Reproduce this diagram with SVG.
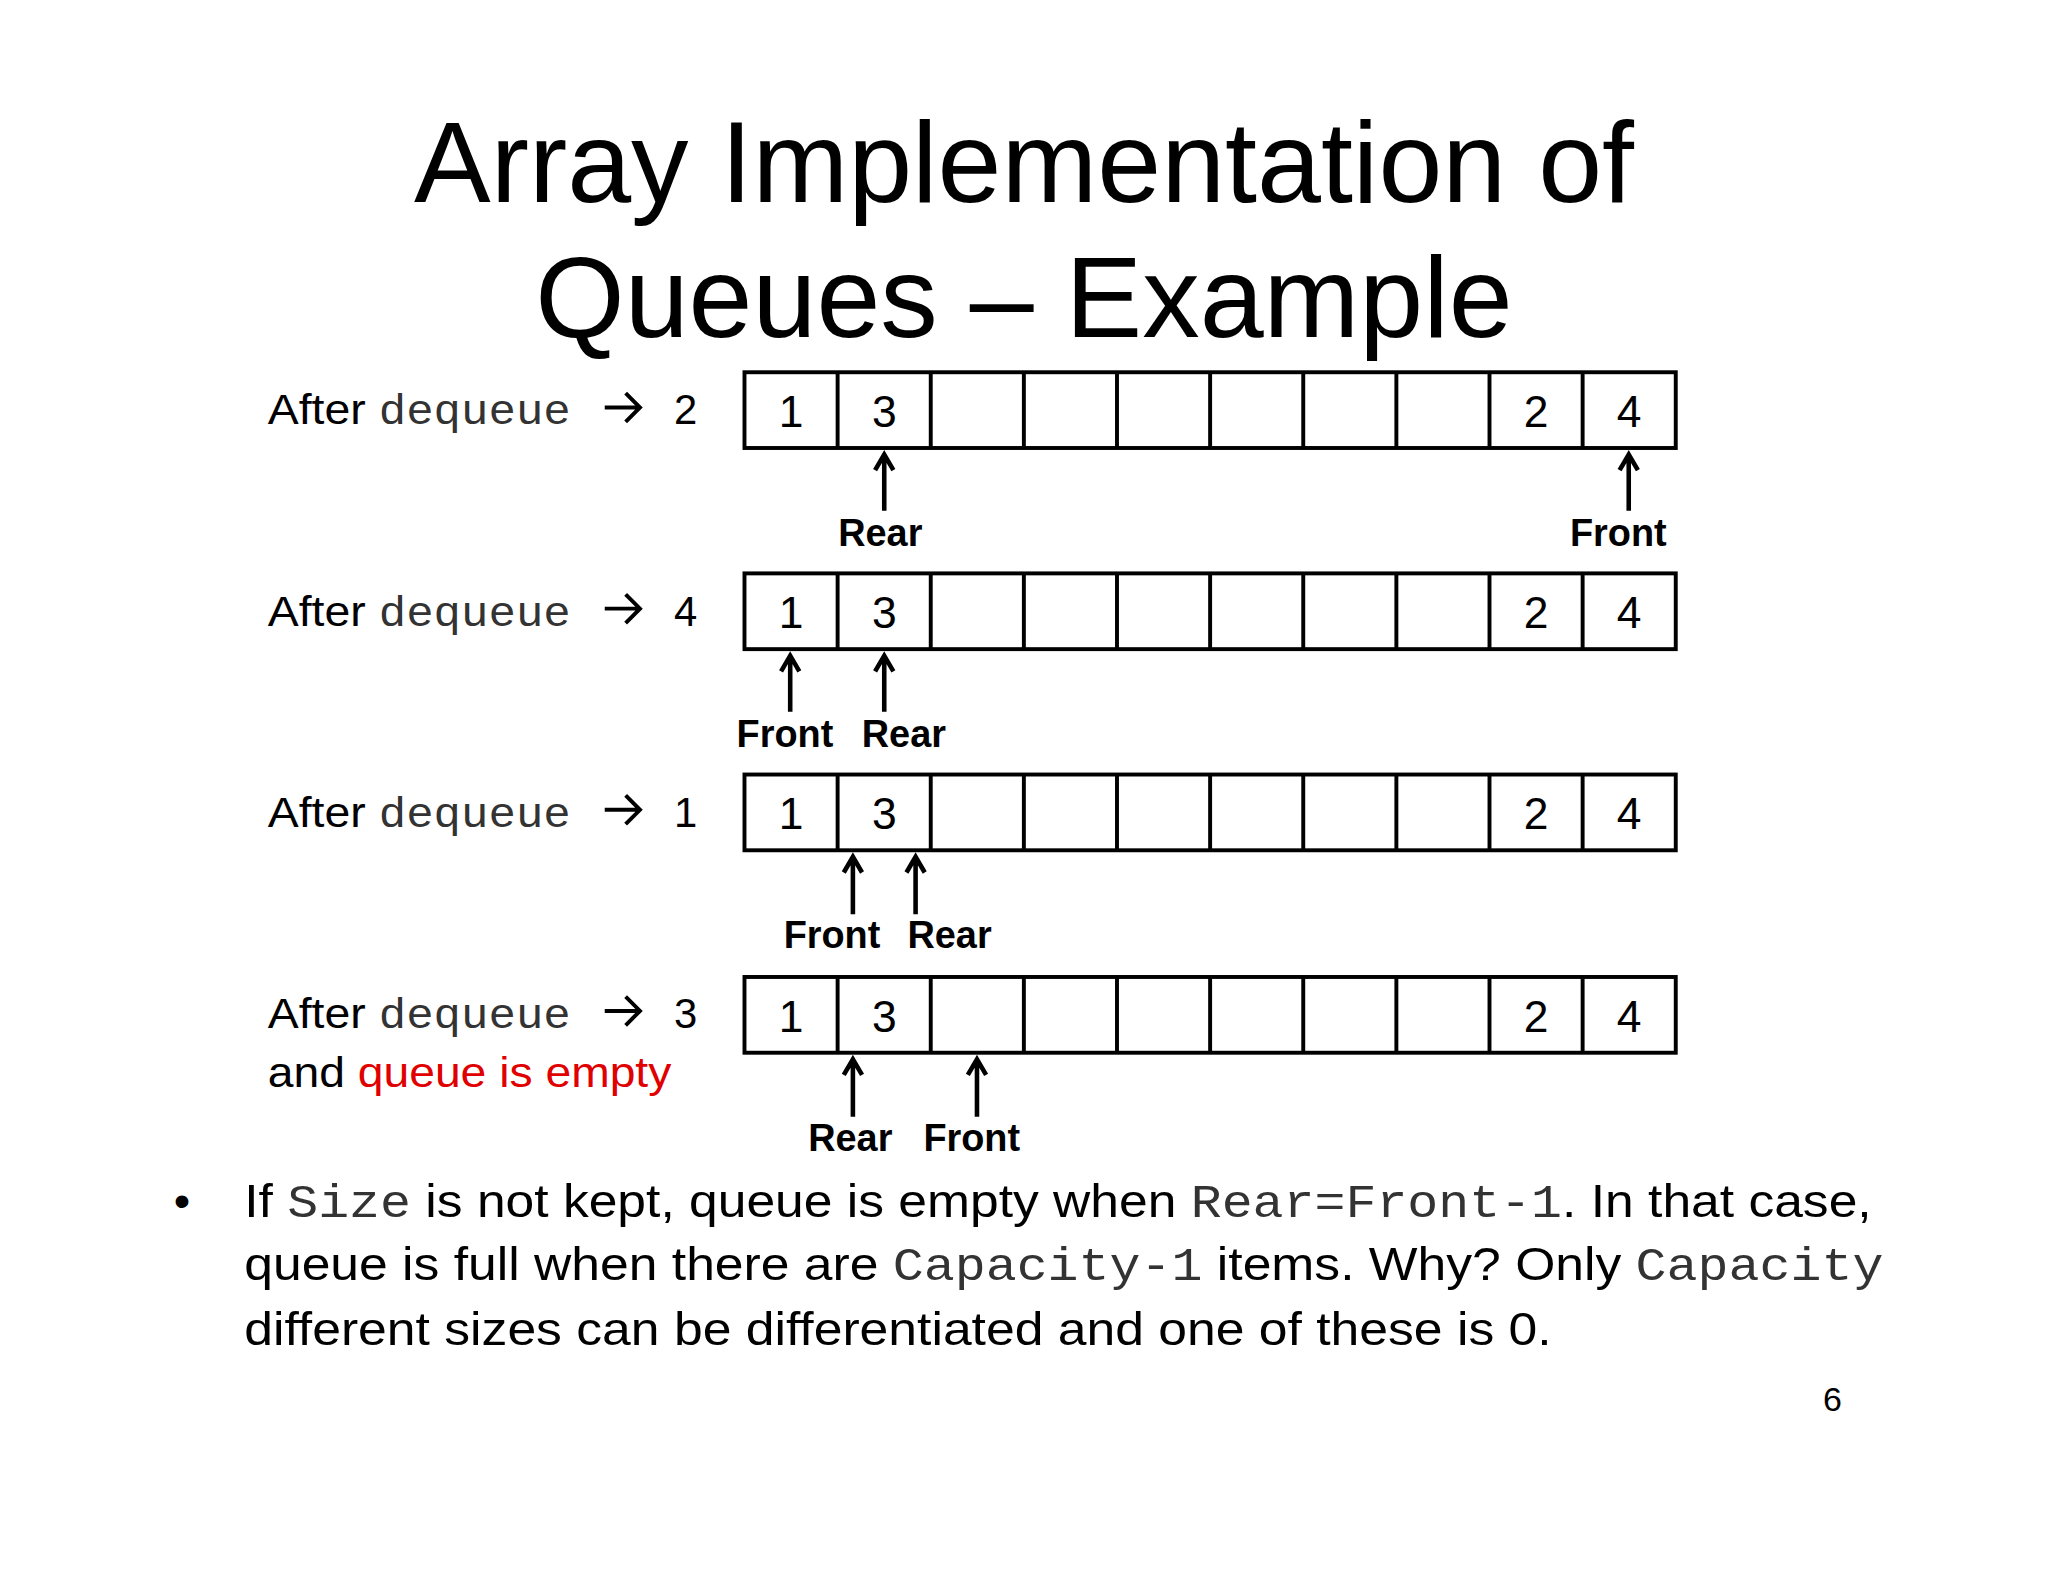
<svg xmlns="http://www.w3.org/2000/svg" width="2048" height="1582" viewBox="0 0 2048 1582">
<defs>
<style>
text{font-family:"Liberation Sans",Arial,sans-serif;fill:#000}
.m{font-family:"Liberation Mono","Courier New",monospace;fill:#333}
.t{font-size:88px;text-anchor:middle}
.l{font-size:32px}
.n{font-size:34px;text-anchor:middle}
.p{font-size:29px;font-weight:bold;text-anchor:middle}
.b{font-size:36px}
.cell{fill:#fff;stroke:#000;stroke-width:3}
.ar{stroke:#000;stroke-width:3.5;fill:none}
.la{stroke:#000;stroke-width:3;fill:none}
</style>
<g id="arr">
<rect class="cell" x="570" y="0" width="713" height="58"/>
<path d="M641.3 0V58M712.6 0V58M783.9 0V58M855.2 0V58M926.5 0V58M997.8 0V58M1069.1 0V58M1140.4 0V58M1211.7 0V58" stroke="#000" stroke-width="3"/>
<text class="n" x="605.6" y="42">1</text><text class="n" x="677" y="42">3</text><text class="n" x="1176" y="42">2</text><text class="n" x="1247.3" y="42">4</text>
</g>
<g id="lab">
<text class="l" x="205" y="0" textLength="75" lengthAdjust="spacingAndGlyphs">After</text>
<text class="l m" x="290" y="0" textLength="147" lengthAdjust="spacingAndGlyphs">dequeue</text>
<path class="la" d="M463 -13H489M479 -24L490 -13L479 -2"/>
</g>
</defs>
<rect width="2048" height="1582" fill="#fff"/>
<g transform="scale(1.30612)">
<g id="title"><text class="t" x="784" y="155">Array Implementation of</text><text class="t" x="784" y="258">Queues – Example</text></g>
<g id="row1"><use href="#arr" y="285"/><use href="#lab" y="325"/><text class="l" x="516" y="325">2</text></g>
<g id="row2"><use href="#arr" y="439"/><use href="#lab" y="479"/><text class="l" x="516" y="479">4</text></g>
<g id="row3"><use href="#arr" y="593"/><use href="#lab" y="633"/><text class="l" x="516" y="633">1</text></g>
<g id="row4"><use href="#arr" y="748"/><use href="#lab" y="787"/><text class="l" x="516" y="787">3</text><text class="l" x="205" y="832" textLength="309" lengthAdjust="spacingAndGlyphs">and <tspan fill="#e00000">queue is empty</tspan></text></g>
<g id="connectors">
<path class="ar" d="M677 391V348M670 360L677 348L684 360M1247 391V348M1240 360L1247 348L1254 360M605 545V502M598 514L605 502L612 514M677 545V502M670 514L677 502L684 514M653 700V656M646 668L653 656L660 668M701 700V656M694 668L701 656L708 668M653 855V811M646 823L653 811L660 823M748 855V811M741 823L748 811L755 823"/>
</g>
<g id="labels">
<text class="p" x="674" y="418">Rear</text><text class="p" x="1239" y="418">Front</text>
<text class="p" x="601" y="572">Front</text><text class="p" x="692" y="572">Rear</text>
<text class="p" x="637" y="726">Front</text><text class="p" x="727" y="726">Rear</text>
<text class="p" x="651" y="881">Rear</text><text class="p" x="744" y="881">Front</text>
</g>
<g id="bullet">
<text class="b" x="133" y="932">•</text>
<text class="b" x="187" y="932" textLength="1246" lengthAdjust="spacingAndGlyphs">If <tspan class="m">Size</tspan> is not kept, queue is empty when <tspan class="m">Rear=Front-1</tspan>. In that case,</text>
<text class="b" x="187" y="980" textLength="1255" lengthAdjust="spacingAndGlyphs">queue is full when there are <tspan class="m">Capacity-1</tspan> items. Why? Only <tspan class="m">Capacity</tspan></text>
<text class="b" x="187" y="1030" textLength="1001" lengthAdjust="spacingAndGlyphs">different sizes can be differentiated and one of these is 0.</text>
<text x="1403" y="1080" font-size="26" text-anchor="middle">6</text>
</g>
</g>
</svg>
